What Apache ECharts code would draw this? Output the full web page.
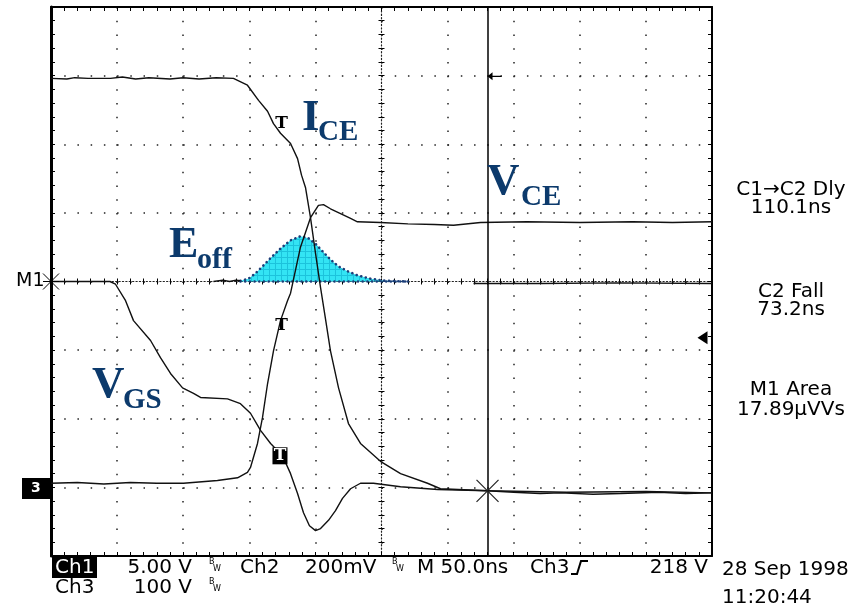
<!DOCTYPE html>
<html>
<head>
<meta charset="utf-8">
<script src="https://cdn.jsdelivr.net/npm/echarts@6/dist/echarts.min.js"></script>
<style>
html,body{margin:0;padding:0;background:#fff;}
#chart{width:858px;height:609px;}
</style>
</head>
<body>
<div id="chart"></div>
<script>
// Time in ns relative to screen centre (10 div x 50 ns), amplitude in screen divisions
const timeRange = [-250, 250];
const divRange = [-4, 4];

// Ch2 : I_CE (falling current)
const ch2Ice = [
  [-250, 2.96], [-238, 2.95], [-232, 2.97], [-222, 2.96], [-205, 2.96], [-196, 2.98], [-186, 2.95],
  [-176, 2.97], [-160, 2.95], [-150, 2.97], [-138, 2.95], [-125, 2.97], [-112, 2.96],
  [-101.4, 2.86], [-93.0, 2.64], [-86.2, 2.48], [-81.7, 2.30], [-76.4, 2.16], [-68.8, 2.01],
  [-63.5, 1.79], [-60.5, 1.55], [-57.5, 1.37], [-53.7, 0.93], [-49.9, 0.41], [-46.1, -0.09],
  [-42.4, -0.54], [-38.6, -1.01], [-32.5, -1.55], [-25.0, -2.07], [-15.9, -2.36], [-0.8, -2.62],
  [14.4, -2.80], [34.8, -2.94], [44.6, -3.02], [80.2, -3.05], [100, -3.07], [120, -3.09],
  [135.4, -3.08], [160, -3.10], [180.8, -3.09], [210, -3.07], [230, -3.09], [250, -3.08]
];

// Ch3 : V_CE (rising voltage)
const ch3Vce = [
  [-250, -2.94], [-230, -2.93], [-210, -2.95], [-190, -2.93], [-170, -2.94], [-149.8, -2.94],
  [-124.1, -2.90], [-108.9, -2.86], [-101.4, -2.78], [-99.1, -2.71], [-93.8, -2.36], [-90.0, -1.98],
  [-86.2, -1.49], [-81.7, -1.01], [-76.4, -0.57], [-71.1, -0.28], [-68.8, -0.17], [-61.3, 0.50],
  [-53.7, 0.93], [-47.7, 1.11], [-43.9, 1.12], [-38.6, 1.06], [-31.0, 0.99], [-23.4, 0.92],
  [-18.2, 0.87], [-0.8, 0.86], [20, 0.84], [40, 0.83], [54.5, 0.82], [74.9, 0.86],
  [110, 0.87], [150, 0.86], [190, 0.87], [220, 0.86], [250, 0.87]
];

// Ch1 : V_GS (gate voltage)
const ch1Vgs = [
  [-250, 0], [-205.4, 0], [-201.2, -0.04], [-193.6, -0.28], [-187.6, -0.57], [-174.7, -0.86],
  [-167.2, -1.11], [-159.6, -1.34], [-150.5, -1.55], [-142.2, -1.63], [-136.9, -1.69],
  [-116.5, -1.71], [-106.7, -1.78], [-99.1, -1.92], [-91.5, -2.17], [-83.9, -2.36], [-74.9, -2.54],
  [-68.8, -2.80], [-63.5, -3.09], [-59.0, -3.37], [-54.5, -3.56], [-49.9, -3.63], [-46.1, -3.60],
  [-40.1, -3.48], [-34.8, -3.34], [-29.5, -3.16], [-23.4, -3.02], [-15.9, -2.94], [-6.1, -2.94],
  [14.4, -2.99], [42.4, -3.03], [80.2, -3.05], [140, -3.07], [200, -3.06], [250, -3.08]
];

// M1 : E_off (area = product trace)
const m1Eoff = [
  [-106.7, 0.01], [-100.6, 0.04], [-95.3, 0.12], [-90.0, 0.22], [-84.0, 0.34], [-76.4, 0.48],
  [-68.8, 0.60], [-61.3, 0.66], [-55.2, 0.63], [-49.9, 0.55], [-44.6, 0.44], [-38.6, 0.32],
  [-32.5, 0.22], [-25.7, 0.15], [-18.2, 0.09], [-8.3, 0.04], [3.0, 0.01], [20.4, 0]
];
const m1Base = [[-106.7, 0], [20.4, 0]];
const m1Trace = [
  [-127.1, 0], [-120, 0.02], [-115, 0], [-110, 0.02], [-106.7, 0.01], null,
  [69.6, -0.03], [120, -0.03], [180, -0.02], [250, -0.03]
];

// Annotation anchors (ns, div)
const trigMarkCh2 = [-75.6, 2.30];
const trigMarkCh3 = [-75.6, -0.64];
const trigMarkCh1 = [-76.8, -2.54];
const cursorTime = 80.2;
const cursorLevel = -3.05;
const refArrowCh2 = [85.5, 2.99];
const trigLevelArrow = [242.8, -0.82];

// hatch pattern for the filled area
const pat = document.createElement('canvas');
pat.width = 6; pat.height = 6;
const pctx = pat.getContext('2d');
pctx.fillStyle = '#33e4f4'; pctx.fillRect(0, 0, 6, 6);
pctx.fillStyle = '#1cc3dc'; pctx.fillRect(5, 0, 1, 6); pctx.fillRect(0, 5, 6, 1);

const ink = '#111';
const GRID = {left: 51, top: 7, width: 661, height: 549};

function borderAxis(pos, width, dash) {
  return {
    type: 'value', position: pos,
    axisLine: {show: true, onZero: false, lineStyle: {color: '#000', width: width}},
    axisTick: {show: true, inside: true, length: 4, lineStyle: {color: '#000', width: 1}},
    minorTick: {show: true, splitNumber: 5, length: 4, lineStyle: {color: '#000', width: 1}},
    axisLabel: {show: false},
    splitLine: dash ? {show: true, lineStyle: {color: '#222', width: 1.5, type: dash}} : {show: false}
  };
}
function centreAxis(pos, inside, showLine) {
  return {
    type: 'value', position: pos,
    axisLine: {show: showLine, onZero: true, onZeroAxisIndex: 0,
      lineStyle: {color: '#222', width: 1.2, type: [1.2, 2.2]}},
    axisTick: {show: true, inside: inside, length: 3, lineStyle: {color: '#000', width: 1}},
    minorTick: {show: true, splitNumber: 5, length: 3, lineStyle: {color: '#000', width: 1}},
    axisLabel: {show: false},
    splitLine: {show: false}
  };
}

const xAxes = [
  borderAxis('bottom', 2, [1.5, 12.225]),
  borderAxis('top', 2, null),
  centreAxis('bottom', true, true),
  centreAxis('bottom', false, false)
].map(a => Object.assign(a, {min: timeRange[0], max: timeRange[1], interval: 50}));
const yAxes = [
  borderAxis('left', 3, [1.5, 11.72]),
  borderAxis('right', 2, null),
  centreAxis('left', true, true),
  centreAxis('left', false, false)
].map(a => Object.assign(a, {min: divRange[0], max: divRange[1], interval: 1}));

const traceLine = {color: ink, width: 1.4};
const tLabel = (txt, color) => ({show: true, formatter: txt, position: 'inside', color: color,
  fontFamily: 'DejaVu Serif', fontWeight: 'bold', fontSize: 17});

const option = {
  animation: false,
  backgroundColor: '#fff',
  grid: GRID,
  xAxis: xAxes,
  yAxis: yAxes,
  series: [
    {
      name: 'M1 area', type: 'line', data: m1Eoff, symbol: 'none', z: 2,
      lineStyle: {color: '#1d3f7a', width: 2.6, type: [0.1, 4.6], cap: 'round'},
      areaStyle: {color: {image: pat, repeat: 'repeat'}, opacity: 1, origin: 0}
    },
    {
      name: 'M1 base', type: 'line', data: m1Base, symbol: 'none', z: 2,
      lineStyle: {color: '#1d3f7a', width: 2.4, type: [0.1, 4.6], cap: 'round'}
    },
    {
      name: 'M1', type: 'line', data: m1Trace, symbol: 'none', connectNulls: false, z: 3,
      lineStyle: traceLine,
      markPoint: {
        symbol: 'path://M0,0L10,10M10,0L0,10M0,5L10,5', symbolSize: 16,
        itemStyle: {color: 'none', borderColor: '#000', borderWidth: 1},
        label: {show: false},
        data: [{coord: [timeRange[0], 0]}]
      }
    },
    {
      name: 'Ch2', type: 'line', data: ch2Ice, symbol: 'none', z: 4, lineStyle: traceLine,
      markLine: {
        silent: true, symbol: 'none', label: {show: false},
        lineStyle: {color: '#000', width: 1.5, type: 'solid'},
        data: [{xAxis: cursorTime}]
      },
      markPoint: {
        label: {show: true},
        data: [
          {coord: trigMarkCh2, symbol: 'rect', symbolSize: [14, 16],
            itemStyle: {color: 'rgba(0,0,0,0)'}, label: tLabel('T', '#000')},
          {coord: refArrowCh2, symbol: 'path://M0,4L5,0L5,3.4L14,3.4L14,4.6L5,4.6L5,8Z', symbolSize: [14, 8],
            itemStyle: {color: '#000'}, label: {show: false}},
          {coord: trigLevelArrow, symbol: 'triangle', symbolRotate: 90, symbolSize: [13, 10],
            itemStyle: {color: '#000'}, label: {show: false}}
        ]
      }
    },
    {
      name: 'Ch3', type: 'line', data: ch3Vce, symbol: 'none', z: 4, lineStyle: traceLine,
      markPoint: {
        data: [
          {coord: trigMarkCh3, symbol: 'rect', symbolSize: [14, 16],
            itemStyle: {color: 'rgba(0,0,0,0)'}, label: tLabel('T', '#000')}
        ]
      }
    },
    {
      name: 'Ch1', type: 'line', data: ch1Vgs, symbol: 'none', z: 4, lineStyle: traceLine,
      markPoint: {
        data: [
          {coord: trigMarkCh1, symbol: 'rect', symbolSize: [15, 17],
            itemStyle: {color: '#000'}, label: tLabel('T', '#fff')},
          {coord: [cursorTime, cursorLevel], symbol: 'path://M0,0L20,20M20,0L0,20', symbolSize: 22,
            itemStyle: {color: 'none', borderColor: '#222', borderWidth: 1.2}, label: {show: false}}
        ]
      }
    }
  ],
  graphic: []
};

const navy = '#0c3a6c';
const serifB = (s) => 'bold ' + s + 'px "Liberation Serif", "Times New Roman", serif';
const sans = (s) => s + 'px "DejaVu Sans", sans-serif';
function txt(t, x, y, font, fill, align) {
  return {type: 'text', z: 100, style: {text: t, x: x, y: y, font: font, fill: fill || '#000',
    textAlign: align || 'left', textVerticalAlign: 'middle', verticalAlign: 'middle'}};
}
const g = option.graphic;
// big annotations
g.push(txt('I', 302, 118, serifB(45), navy));
g.push(txt('CE', 318, 133, serifB(29), navy));
g.push(txt('V', 487, 182, serifB(45), navy));
g.push(txt('CE', 521, 198, serifB(29), navy));
g.push(txt('E', 169, 245.5, serifB(44), navy));
g.push(txt('off', 197, 260, serifB(30), navy));
g.push(txt('V', 92, 385, serifB(45), navy));
g.push(txt('GS', 123, 401, serifB(29), navy));
// right measurement column
g.push(txt('C1\u2192C2 Dly', 791, 189.5, sans(20), '#000', 'center'));
g.push(txt('110.1ns', 791, 207.5, sans(20), '#000', 'center'));
g.push(txt('C2 Fall', 791, 292, sans(20), '#000', 'center'));
g.push(txt('73.2ns', 791, 310, sans(20), '#000', 'center'));
g.push(txt('M1 Area', 791, 389.5, sans(20), '#000', 'center'));
g.push(txt('17.89\u00b5VVs', 791, 410, sans(20), '#000', 'center'));
g.push(txt('28 Sep 1998', 722, 570, sans(20)));
g.push(txt('11:20:44', 722, 597.5, sans(20)));
// bottom status line
g.push({type: 'rect', z: 99, shape: {x: 52, y: 557, width: 45, height: 21}, style: {fill: '#000'}});
g.push(txt('Ch1', 55, 567.5, sans(20), '#fff'));
g.push(txt('5.00 V', 192, 567.5, sans(20), '#000', 'right'));
g.push(txt('B', 209, 562, sans(8)));
g.push(txt('W', 213, 569, sans(8)));
g.push(txt('Ch2', 240, 567.5, sans(20)));
g.push(txt('200mV', 305, 567.5, sans(20)));
g.push(txt('B', 392, 562, sans(8)));
g.push(txt('W', 396, 569, sans(8)));
g.push(txt('M 50.0ns', 417, 567.5, sans(20)));
g.push(txt('Ch3', 530, 567.5, sans(20)));
g.push({type: 'polyline', z: 99, shape: {points: [[571, 574], [577, 574], [581, 561], [588, 561]]},
  style: {stroke: '#000', lineWidth: 2, fill: null}});
g.push(txt('218 V', 708, 567.5, sans(20), '#000', 'right'));
g.push(txt('Ch3', 55, 587.5, sans(20)));
g.push(txt('100 V', 192, 587.5, sans(20), '#000', 'right'));
g.push(txt('B', 209, 582, sans(8)));
g.push(txt('W', 213, 589, sans(8)));
// left channel markers
g.push(txt('M1', 16, 281.5, sans(19)));
g.push({type: 'rect', z: 99, shape: {x: 22, y: 478, width: 28, height: 21}, style: {fill: '#000'}});
g.push(txt('3', 31, 488.5, 'bold 14px "DejaVu Sans"', '#fff'));

const chart = echarts.init(document.getElementById('chart'), null, {renderer: 'canvas'});
chart.setOption(option);
</script>
</body>
</html>
